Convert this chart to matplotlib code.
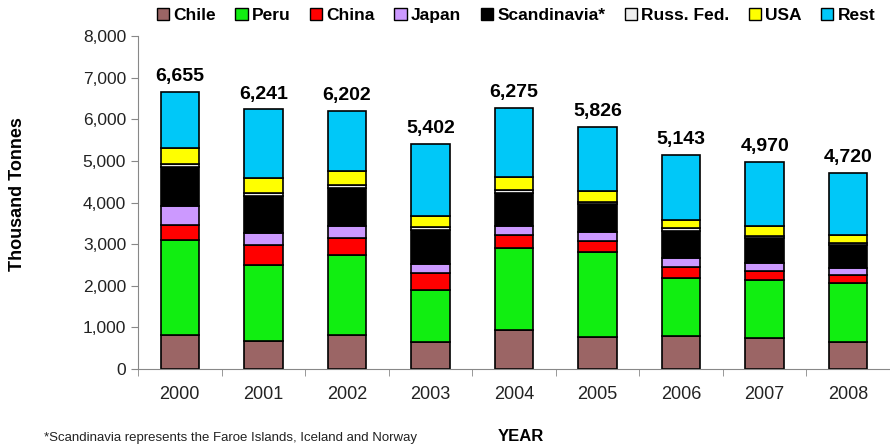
import numpy as np
import matplotlib
matplotlib.use("Agg")
from matplotlib import pyplot as plt
from matplotlib.patches import Patch

plt.rcParams['font.family'] = ['Liberation Sans', 'DejaVu Sans']

years = ["2000", "2001", "2002", "2003", "2004", "2005", "2006", "2007", "2008"]
totals = [6655, 6241, 6202, 5402, 6275, 5826, 5143, 4970, 4720]

chile = [817, 673, 817, 657, 938, 777, 801, 753, 657]
peru = [2284, 1827, 1923, 1242, 1963, 2028, 1379, 1387, 1403]
china = [361, 481, 401, 401, 320, 272, 280, 224, 200]
japan = [464, 281, 297, 224, 217, 224, 201, 192, 160]
scandinavia = [922, 905, 921, 818, 785, 666, 664, 585, 561]
russ_fed = [80, 72, 64, 79, 80, 55, 57, 56, 56]
usa = [377, 345, 337, 257, 320, 265, 200, 241, 184]
rest = [t - sum(v) for t, v in zip(totals, zip(chile, peru, china, japan, scandinavia, russ_fed, usa))]

series = [
    ("Chile", chile, "#9b6565"),
    ("Peru", peru, "#11ee11"),
    ("China", china, "#ff0000"),
    ("Japan", japan, "#cc99ff"),
    ("Scandinavia*", scandinavia, "#000000"),
    ("Russ. Fed.", russ_fed, "#eeeeee"),
    ("USA", usa, "#ffff00"),
    ("Rest", rest, "#00c8f8"),
]

fig = plt.figure(figsize=(8.9, 4.46), dpi=100)
ax = fig.add_axes([0.155, 0.1726, 0.845, 0.746])

x = np.arange(len(years))
bottom = np.zeros(len(years))
for name, vals, col in series:
    ax.bar(x, vals, width=0.46, bottom=bottom, color=col, edgecolor="black", linewidth=1.2)
    bottom += np.array(vals)

for xi, t in zip(x, totals):
    ax.annotate(f"{t:,}", (xi, t), xytext=(0, 5), textcoords="offset points",
                ha="center", va="bottom", fontsize=14, fontweight="bold")

ax.set_xlim(-0.5, len(years) - 0.5)
ax.set_ylim(0, 8000)
ax.set_yticks(range(0, 8001, 1000))
ax.set_yticklabels([f"{v:,}" for v in range(0, 8001, 1000)], fontsize=12.5, color="#222222")
ax.set_xticks(x)
ax.set_xticklabels(years, fontsize=13, color="#222222")
ax.set_xticks(np.arange(-0.5, len(years), 1), minor=True)
ax.tick_params(axis="x", which="major", length=0, pad=12)
ax.tick_params(axis="x", which="minor", length=5, color="#888888", direction="out")
ax.tick_params(axis="y", length=5, color="#888888", direction="out")
for s in ["top", "right"]:
    ax.spines[s].set_visible(False)
ax.spines["left"].set_color("#888888")
ax.spines["bottom"].set_color("#888888")

fig.text(0.02, 0.565, "Thousand Tonnes", rotation=90, ha="center", va="center",
         fontsize=13, fontweight="bold")
fig.text(0.585, 0.022, "YEAR", ha="center", va="center", fontsize=12, fontweight="bold")
fig.text(0.05, 0.018, "*Scandinavia represents the Faroe Islands, Iceland and Norway",
         ha="left", va="center", fontsize=9.5, color="#222222")

handles = [Patch(facecolor=c, edgecolor="black", linewidth=1, label=n) for n, v, c in series]
fig.legend(handles=handles, loc="center", bbox_to_anchor=(0.58, 0.965), ncol=8,
           frameon=False, handlelength=0.7, handleheight=0.7, handletextpad=0.25,
           columnspacing=1.12, prop={"size": 12.5, "weight": "bold"})

fig.savefig("out.png", dpi=100)
